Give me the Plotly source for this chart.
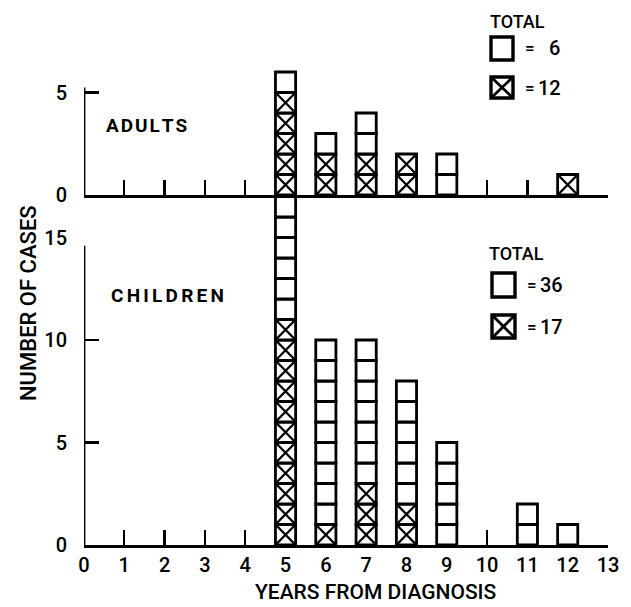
import plotly.graph_objects as go

# ---------------- data ----------------
years = [5, 6, 7, 8, 9, 10, 11, 12]
adult_crossed = [5, 2, 2, 2, 0, 0, 0, 1]
adult_plain = [1, 1, 2, 0, 2, 0, 0, 0]
child_crossed = [11, 1, 3, 2, 0, 0, 0, 0]
child_plain = [6, 9, 7, 6, 5, 0, 2, 1]

x_ticks = list(range(14))
x_tick_labels = [str(v) for v in x_ticks]
child_y_ticks = [0, 5, 10, 15]
adult_y_ticks = [0, 5]
adult_totals = ["6", "12"]
child_totals = ["36", "17"]

# ---------------- style / layout ----------------
W, H = 631, 607
ML, MR, MT, MB = 84, 23, 40, 62
PW, PH = W - ML - MR, H - MT - MB
UNIT = 20.5  # px per case
FONT = "Roboto, Liberation Sans, Arial, sans-serif"
WT = 500
BAR_W = 0.5
LW = 2.8


def px(xp):
    return (xp - ML) / PW


def py(yp):
    return (H - MB - yp) / PH


child_top_px = 190
adult_bottom_px = 195
child_dom = [0, py(child_top_px)]
adult_dom = [py(adult_bottom_px), 1.0]
child_range = [0, (H - MB - child_top_px) / UNIT]
adult_range = [0, (adult_bottom_px - MT) / UNIT]


def unit_boxes(crossed, plain):
    bx, bb, cx, cb = [], [], [], []
    for yr, c, p in zip(years, crossed, plain):
        for k in range(c):
            bx.append(yr); bb.append(k)
            cx.append(yr); cb.append(k)
        for k in range(p):
            bx.append(yr); bb.append(c + k)
    return bx, bb, cx, cb


def cross_lines(cx, cb):
    lx, ly = [], []
    h = BAR_W / 2
    for x, b in zip(cx, cb):
        lx += [x - h, x + h, None, x - h, x + h, None]
        ly += [b, b + 1, None, b + 1, b, None]
    return lx, ly


fig = go.Figure()

for crossed, plain, xa, ya in [(child_crossed, child_plain, "x", "y"),
                               (adult_crossed, adult_plain, "x2", "y2")]:
    bx, bb, cx, cb = unit_boxes(crossed, plain)
    fig.add_trace(go.Bar(
        x=bx, y=[1] * len(bx), base=bb, width=BAR_W,
        marker=dict(color="white", line=dict(color="black", width=LW)),
        xaxis=xa, yaxis=ya, showlegend=False, hoverinfo="skip"))
    lx, ly = cross_lines(cx, cb)
    fig.add_trace(go.Scatter(
        x=lx, y=ly, mode="lines", line=dict(color="black", width=2.3),
        xaxis=xa, yaxis=ya, showlegend=False, hoverinfo="skip"))

xcommon = dict(range=[0, 13], tickvals=x_ticks, ticktext=x_tick_labels,
               showline=True, linecolor="black", linewidth=LW,
               ticks="inside", ticklen=15, tickwidth=2.3, tickcolor="black",
               showgrid=False, zeroline=False, layer="below traces",
               tickfont=dict(family=FONT, size=20, color="black", weight=WT))

ycommon = dict(showline=False, showgrid=False, zeroline=False, ticks="",
               tickfont=dict(family=FONT, size=20, color="black", weight=WT),
               ticklabelstandoff=16)

fig.update_layout(
    width=W, height=H,
    margin=dict(l=ML, r=MR, t=MT, b=MB),
    paper_bgcolor="white", plot_bgcolor="white",
    barmode="overlay", showlegend=False,
    xaxis=dict(**xcommon, anchor="y", ticklabelstandoff=0),
    xaxis2=dict(**xcommon, anchor="y2", matches="x", showticklabels=False),
    yaxis=dict(**ycommon, domain=child_dom, range=child_range, anchor="x",
               tickvals=child_y_ticks, ticktext=[str(v) for v in child_y_ticks],
               minor=dict(tickvals=[5, 10], ticks="inside", ticklen=15,
                          tickwidth=2.3, tickcolor="black")),
    yaxis2=dict(**ycommon, domain=adult_dom, range=adult_range, anchor="x2",
                tickvals=adult_y_ticks, ticktext=[str(v) for v in adult_y_ticks],
                minor=dict(tickvals=[5], ticks="inside", ticklen=15,
                           tickwidth=2.3, tickcolor="black")),
)

shapes = [
    dict(type="line", xref="x", yref="y", x0=0, x1=0, y0=0, y1=14.6,
         line=dict(color="black", width=LW)),
    dict(type="line", xref="x2", yref="y2", x0=0, x1=0, y0=0, y1=5.25,
         line=dict(color="black", width=LW)),
]


def legend_box(x0, y0, x1, y1, crossed):
    s = [dict(type="rect", xref="paper", yref="paper",
              x0=px(x0), x1=px(x1), y0=py(y1), y1=py(y0),
              line=dict(color="black", width=3.4), fillcolor="white")]
    if crossed:
        for a, b in [((x0, y0), (x1, y1)), ((x0, y1), (x1, y0))]:
            s.append(dict(type="line", xref="paper", yref="paper",
                          x0=px(a[0]), y0=py(a[1]), x1=px(b[0]), y1=py(b[1]),
                          line=dict(color="black", width=2.8)))
    return s


shapes += legend_box(491, 37, 513, 60, False)
shapes += legend_box(491, 77, 513, 98, True)
shapes += legend_box(492, 273, 515, 297, False)
shapes += legend_box(492, 315, 515, 338, True)
fig.update_layout(shapes=shapes)

annotations = []


def txt(text, xp, yp, xanchor="left", yanchor="middle", size=20, bold=False, angle=0):
    annotations.append(dict(text=text, xref="paper", yref="paper",
                            x=px(xp), y=py(yp), xanchor=xanchor, yanchor=yanchor,
                            showarrow=False, textangle=angle,
                            font=dict(family=FONT, size=size, color="black",
                                      weight="bold" if bold else WT)))


txt("\u200a".join("ADULTS"), 104, 125, bold=True, size=19)
txt("\u2006".join("CHILDREN"), 109, 295, bold=True, size=19)
txt("TOTAL", 488, 22, size=18)
txt("=", 530, 48, xanchor="center", size=17)
txt(adult_totals[0], 562, 48, xanchor="right", size=20)
txt("=", 530, 88, xanchor="center", size=17)
txt(adult_totals[1], 563, 88, xanchor="right", size=20)
txt("TOTAL", 487, 253, size=18)
txt("=", 532, 285, xanchor="center", size=17)
txt(child_totals[0], 565, 285, xanchor="right", size=20)
txt("=", 532, 327, xanchor="center", size=17)
txt(child_totals[1], 565, 327, xanchor="right", size=20)
txt("YEARS FROM DIAGNOSIS", 375, 606, xanchor="center", yanchor="bottom", size=21)
txt("NUMBER OF CASES", 28, 303, xanchor="center", size=22, angle=-90)
fig.update_layout(annotations=annotations)

fig.write_html("out.html",
               config={"displayModeBar": False, "staticPlot": True},
               post_script="document.body.style.margin='0';"
                           "document.body.style.overflow='hidden';")
